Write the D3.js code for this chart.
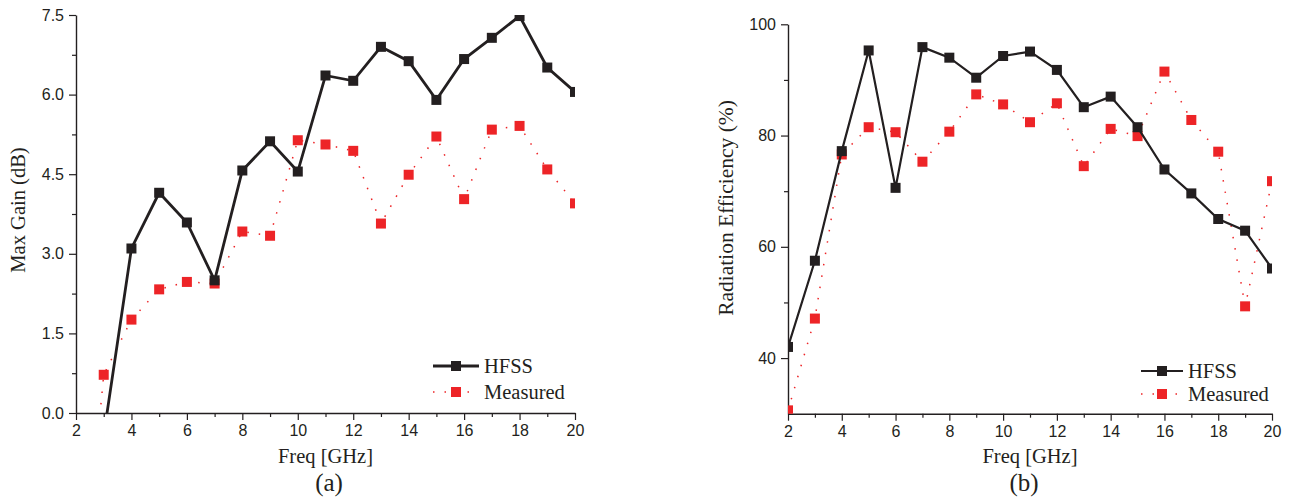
<!DOCTYPE html>
<html><head><meta charset="utf-8">
<script src="https://cdn.jsdelivr.net/npm/d3@7"></script>
<style>body{margin:0;background:#fff}svg{display:block}</style>
</head><body>
<svg id="c" width="1291" height="502"></svg>
<script>
// ---- data ----
const freqA = [3,4,5,6,7,8,9,10,11,12,13,14,15,16,17,18,19,20];
const gainHFSS = [-0.42,3.10,4.15,3.59,2.50,4.57,5.12,4.55,6.36,6.26,6.90,6.63,5.90,6.67,7.07,7.48,6.51,6.05];
const freqAm = [2,3,4,5,6,7,8,9,10,11,12,13,14,15,16,17,18,19,20];
const gainMeas = [-4.8,0.72,1.76,2.33,2.47,2.44,3.42,3.34,5.14,5.06,4.94,3.57,4.49,5.21,4.03,5.34,5.41,4.59,3.95];
const freqB = [2,3,4,5,6,7,8,9,10,11,12,13,14,15,16,17,18,19,20];
const effHFSS = [42.0,57.5,77.2,95.3,70.6,95.9,94.0,90.4,94.3,95.1,91.8,85.1,87.0,81.5,73.9,69.6,65.0,62.9,56.1];
const effMeas = [30.6,47.1,76.6,81.5,80.6,75.3,80.7,87.4,85.6,82.4,85.8,74.5,81.2,79.9,91.5,82.8,77.1,49.3,71.8];
const xTicks = [2,4,6,8,10,12,14,16,18,20];
const yTicksA = [0,1.5,3.0,4.5,6.0,7.5];
const yTicksB = [40,60,80,100];
const seriesNames = ["HFSS","Measured"];

const BLACK = "#231f20", RED = "#ed2427";
const svg = d3.select("#c");

function panel(cfg){
  const g = svg.append("g");
  const x = d3.scaleLinear().domain([2,20]).range([cfg.x0,cfg.x1]);
  const y = d3.scaleLinear().domain(cfg.yDom).range([cfg.yb,cfg.yt]);
  const cid = "clip"+cfg.id;
  svg.append("clipPath").attr("id",cid).append("rect")
    .attr("x",cfg.x0).attr("y",cfg.yt).attr("width",cfg.x1-cfg.x0).attr("height",cfg.yb-cfg.yt);

  const xMinor = d3.range(3,20,2);
  g.append("g").attr("transform",`translate(0,${cfg.yb})`)
    .call(d3.axisBottom(x).tickValues(xTicks).tickSize(7).tickSizeOuter(0).tickPadding(5).tickFormat(d3.format("d")));
  g.append("g").attr("transform",`translate(0,${cfg.yb})`)
    .call(d3.axisBottom(x).tickValues(xMinor).tickSize(4).tickSizeOuter(0).tickFormat(""))
    .select(".domain").remove();
  g.append("g").attr("transform",`translate(${cfg.x0},0)`)
    .call(d3.axisLeft(y).tickValues(cfg.yTicks).tickSize(7).tickSizeOuter(0).tickPadding(5).tickFormat(cfg.fmt));
  g.append("g").attr("transform",`translate(${cfg.x0},0)`)
    .call(d3.axisLeft(y).tickValues(cfg.yMinor).tickSize(4).tickSizeOuter(0).tickFormat(""))
    .select(".domain").remove();
  g.selectAll(".domain").attr("stroke",BLACK).attr("stroke-width",1.4);
  g.selectAll(".tick line").attr("stroke",BLACK).attr("stroke-width",1.2);
  g.selectAll(".tick text").attr("fill",BLACK).style("font-family","'Liberation Sans',Arial,sans-serif").style("font-size","16px");

  const plot = g.append("g").attr("clip-path",`url(#${cid})`);
  const line = d3.line().x(d=>x(d[0])).y(d=>y(d[1]));
  const meas = cfg.mx.map((f,i)=>[f,cfg.my[i]]);
  const hfss = cfg.hx.map((f,i)=>[f,cfg.hy[i]]);
  plot.append("path").datum(meas).attr("d",line).attr("fill","none").attr("stroke",RED)
    .attr("stroke-width",1.5).attr("stroke-dasharray","1.5,10");
  plot.selectAll(".mm").data(meas).join("rect").attr("fill",RED)
    .attr("x",d=>x(d[0])-5).attr("y",d=>y(d[1])-5).attr("width",10).attr("height",10);
  plot.append("path").datum(hfss).attr("d",line).attr("fill","none").attr("stroke",BLACK)
    .attr("stroke-width",cfg.lw);
  plot.selectAll(".hm").data(hfss).join("rect").attr("fill",BLACK)
    .attr("x",d=>x(d[0])-5).attr("y",d=>y(d[1])-5).attr("width",10).attr("height",10);

  const serif = "'Liberation Serif','Times New Roman',serif";
  g.append("text").attr("x",(cfg.x0+cfg.x1)/2).attr("y",463).attr("text-anchor","middle")
    .style("font-family",serif).style("font-size","20.5px").attr("fill",BLACK).text("Freq [GHz]");
  g.append("text").attr("x",cfg.labX).attr("y",491).attr("text-anchor","middle")
    .style("font-family",serif).style("font-size","25px").attr("fill",BLACK).text(cfg.label);
  g.append("text").attr("transform",`translate(${cfg.ytX},${cfg.ytY}) rotate(-90)`)
    .attr("text-anchor","middle").attr("dy","0.35em")
    .style("font-family",serif).style("font-size",cfg.ytSize).attr("fill",BLACK).text(cfg.ytitle);

  const L = cfg.leg;
  const lg = g.append("g");
  lg.append("line").attr("x1",L.x1).attr("x2",L.x2).attr("y1",L.y1).attr("y2",L.y1)
    .attr("stroke",BLACK).attr("stroke-width",cfg.lw);
  lg.append("rect").attr("x",(L.x1+L.x2)/2-5).attr("y",L.y1-5).attr("width",10).attr("height",10).attr("fill",BLACK);
  lg.append("text").attr("x",L.tx).attr("y",L.y1).attr("dy","0.35em").style("font-family",serif)
    .style("font-size","20.5px").attr("fill",BLACK).text(seriesNames[0]);
  lg.append("line").attr("x1",L.x1).attr("x2",L.x2).attr("y1",L.y2).attr("y2",L.y2)
    .attr("stroke",RED).attr("stroke-width",1.5).attr("stroke-dasharray","1.5,10");
  lg.append("rect").attr("x",(L.x1+L.x2)/2-5).attr("y",L.y2-5).attr("width",10).attr("height",10).attr("fill",RED);
  lg.append("text").attr("x",L.tx).attr("y",L.y2).attr("dy","0.35em").style("font-family",serif)
    .style("font-size","20.5px").attr("fill",BLACK).text(seriesNames[1]);
}

panel({id:"a",x0:76,x1:575,yt:15,yb:413,yDom:[0,7.5],yTicks:yTicksA,yMinor:[0.75,2.25,3.75,5.25,6.75],
  fmt:d3.format(".1f"),hx:freqA,hy:gainHFSS,mx:freqAm,my:gainMeas,lw:2.8,
  ytitle:"Max Gain (dB)",ytX:18,ytY:210,ytSize:"20.5px",label:"(a)",labX:329,
  leg:{x1:433,x2:479,tx:484,y1:366,y2:392}});
panel({id:"b",x0:788,x1:1272,yt:24.3,yb:413.7,yDom:[30,100],yTicks:yTicksB,yMinor:[50,70,90],
  fmt:d3.format("d"),hx:freqB,hy:effHFSS,mx:freqB,my:effMeas,lw:2.2,
  ytitle:"Radiation Efficiency (%)",ytX:725,ytY:208,ytSize:"21.5px",label:"(b)",labX:1024,
  leg:{x1:1141,x2:1183,tx:1188,y1:371,y2:394}});
</script>
</body></html>
